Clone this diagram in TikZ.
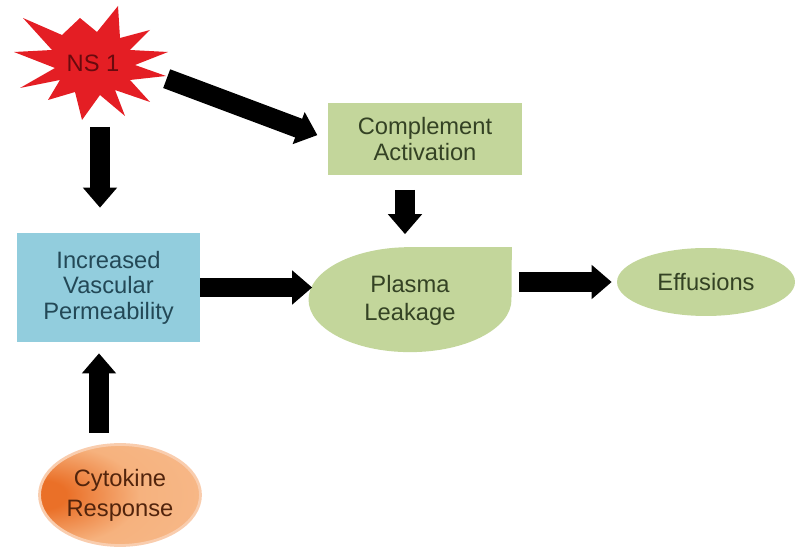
\documentclass[tikz,border=0pt]{standalone}
\usepackage{fontspec}
\setmainfont{Liberation Sans}
\usetikzlibrary{arrows.meta,shapes.geometric,backgrounds}

\definecolor{starred}{RGB}{228,30,36}
\definecolor{nstext}{RGB}{105,10,14}
\definecolor{leafgreen}{RGB}{195,214,155}
\definecolor{greentext}{RGB}{52,66,36}
\definecolor{skyblue}{RGB}{146,205,221}
\definecolor{bluetext}{RGB}{35,72,86}
\definecolor{peach}{RGB}{252,222,198}
\definecolor{lightorange}{RGB}{246,178,126}
\definecolor{deeporange}{RGB}{234,112,40}
\definecolor{browntext}{RGB}{82,36,12}
\pgfdeclareradialshading{cytoglow}{\pgfpoint{-26bp}{0bp}}{color(0bp)=(deeporange); color(7bp)=(deeporange); color(24bp)=(lightorange); color(55bp)=(lightorange!75!peach); color(78bp)=(peach)}

\tikzset{
  blk/.style={line width=0.4cm, -{Triangle[width=0.66cm,length=0.4cm]}},
  lbl/.style={font=\fontsize{13.5}{14.5}\selectfont, align=center},
}

\begin{document}
\begin{tikzpicture}[x=0.02cm,y=-0.02cm]
			%%%%% START %%%%%
			\useasboundingbox (0,0) rectangle (802,547);
			
			% NS 1 burst
			\fill[starred] (23,18) -- (62,35) -- (80,18) -- (97,32) -- (118,6) -- (120,38)
			  -- (150,30) -- (130,50) -- (168,52) -- (135,65) -- (166,76) -- (130,80)
			  -- (150,102) -- (115,90) -- (125,116) -- (100,95) -- (82,120) -- (75,92)
			  -- (48,100) -- (60,80) -- (20,88) -- (55,68) -- (14,52) -- (52,50) -- cycle;
			\node[lbl, circle, minimum size=3cm, text=nstext] (ns) at (93,63) {NS 1};
			
			\node[lbl, fill=leafgreen, text=greentext, minimum width=3.88cm, minimum height=1.44cm] (comp) at (425,139) {Complement\\Activation};
			\node[lbl, fill=skyblue, text=bluetext, minimum width=3.66cm, minimum height=2.18cm] (ivp) at (108.5,287.5) {Increased\\Vascular\\Permeability};
			\node[lbl, inner sep=0pt, minimum width=4.06cm, minimum height=2.1cm, text=greentext] (plasma) at (410,300) {Plasma\\[1.5pt]Leakage};
			\node[lbl, ellipse, inner sep=0pt, fill=leafgreen, text=greentext, minimum width=3.56cm, minimum height=1.36cm] (eff) at (706,282) {Effusions};
			\node[lbl, ellipse, inner sep=0pt, shading=cytoglow, draw=peach!85!deeporange, line width=1.6pt, text=browntext, minimum width=3.22cm, minimum height=2.02cm] (cyto) at (120,495) {Cytokine\\[2.5pt]Response};
			
			\begin{scope}[on background layer]
			\fill[leafgreen] (plasma.north east) -- (plasma.north) arc[start angle=90, end angle=270, x radius=2.03cm, y radius=1.05cm] arc[start angle=270, end angle=360, x radius=2.03cm, y radius=1.05cm] -- cycle;
			\end{scope}
			
			\coordinate (nsfoot) at (100,127);
			\coordinate (compfoot) at (405,190);
			\coordinate (cytotop) at (99,433);
			
			\draw[blk, shorten >=0.22cm] (ns.-12) -- (comp.west);
			\draw[blk, shorten >=0.5cm] (nsfoot) -- (nsfoot |- ivp.north);
			\draw[blk, shorten >=0.26cm] (compfoot) -- (compfoot |- plasma.north);
			\draw[blk, shorten >=-0.08cm] (ivp.east) -- (ivp.east -| plasma.west);
			\draw[blk, shorten <=0.14cm, shorten >=0.1cm] (plasma.east |- eff.west) -- (eff.west);
			\draw[blk, shorten >=0.22cm] (cytotop) -- (cytotop |- ivp.south);
			
			%%%%% END %%%%%
\end{tikzpicture}
\end{document}
